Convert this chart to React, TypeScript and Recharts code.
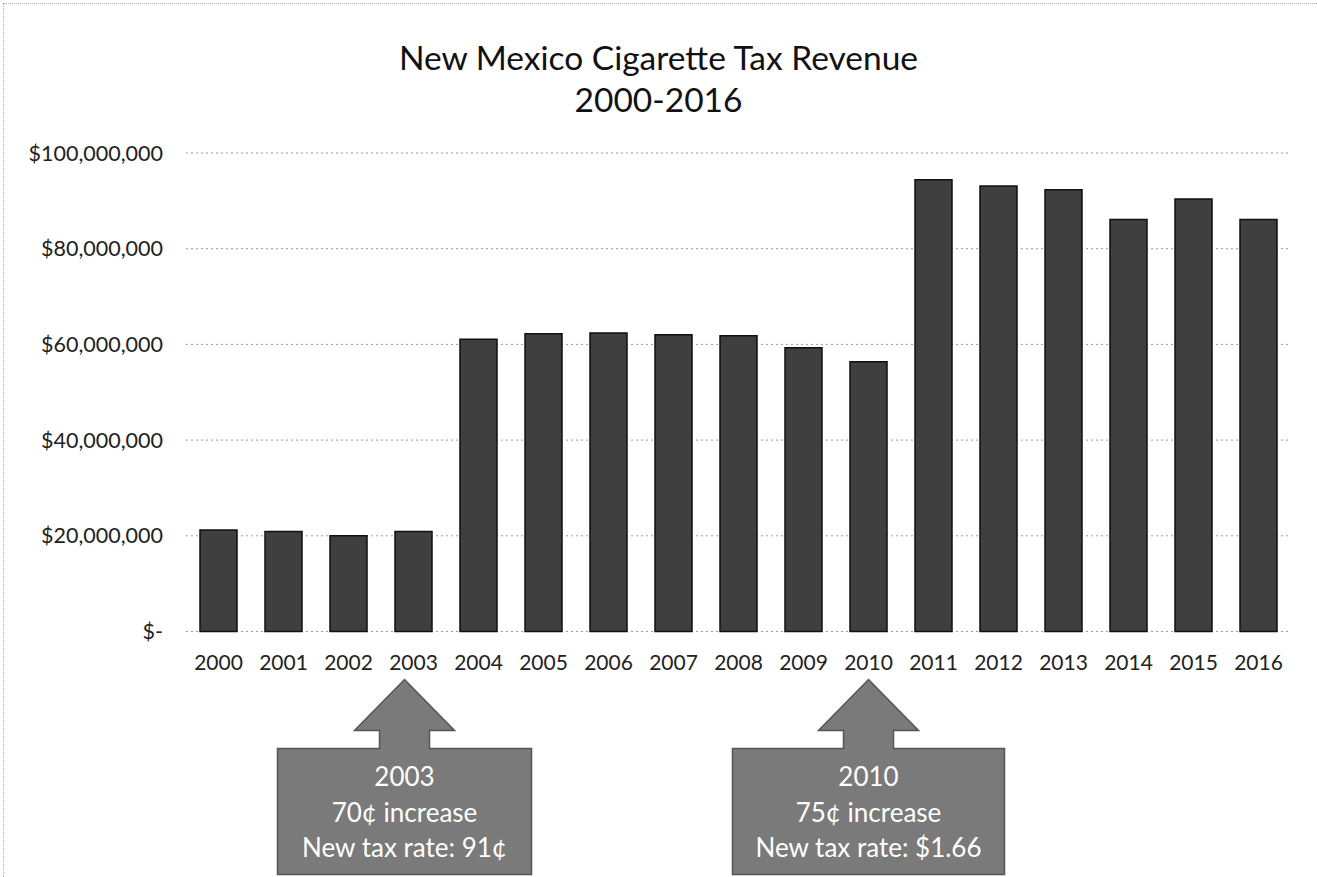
import React from "react";
import { BarChart, Bar, XAxis, YAxis, CartesianGrid, ReferenceDot } from "recharts";

const years = ["2000","2001","2002","2003","2004","2005","2006","2007","2008","2009","2010","2011","2012","2013","2014","2015","2016"];
const revenue = [21200000,20900000,20000000,20900000,61100000,62200000,62400000,62000000,61800000,59300000,56400000,94400000,93100000,92300000,86100000,90400000,86100000];
const yTicks = [0,20000000,40000000,60000000,80000000,100000000];
const titleLines = ["New Mexico Cigarette Tax Revenue","2000-2016"];
const noteYears = ["2003","2010"];
const noteLines = [
  ["2003","70¢ increase","New tax rate: 91¢"],
  ["2010","75¢ increase","New tax rate: $1.66"],
];
const noteWidths = [254,272];
const noteShift = [-9,0];

const data = years.map((y,i)=>({year:y, revenue:revenue[i]}));

const FONT = "Lato, 'Open Sans', sans-serif";

const fmt = (v:number) => v===0 ? "$-" : "$" + v.toLocaleString("en-US");

const makeNote = (idx:number) => (props:any) => {
  const cx = (props.cx ?? 0) + noteShift[idx];
  const cy = props.cy ?? 0;
  const w = noteWidths[idx];
  const tipY = cy + 48;
  const headY = cy + 99;
  const boxY = cy + 117;
  const boxH = 126;
  const path = `M ${cx} ${tipY} L ${cx+50} ${headY} L ${cx+25} ${headY} L ${cx+25} ${boxY} L ${cx+w/2} ${boxY} L ${cx+w/2} ${boxY+boxH} L ${cx-w/2} ${boxY+boxH} L ${cx-w/2} ${boxY} L ${cx-25} ${boxY} L ${cx-25} ${headY} L ${cx-50} ${headY} Z`;
  return (
    <g>
      <path d={path} fill="#7a7a7a" stroke="#555" strokeWidth={1.5} />
      {noteLines[idx].map((t,j)=>(
        <text key={j} x={cx} y={boxY+31+j*35.5} textAnchor="middle" dominantBaseline="middle" fill="#fff" fontFamily={FONT} fontSize={26}>{t}</text>
      ))}
    </g>
  );
};

export default function App() {
  return (
    <div style={{position:"absolute",left:0,top:0,width:1317,height:877,background:"#fff",overflow:"hidden",fontFamily:FONT}}>
      <div style={{position:"absolute",left:3,top:3,right:0,height:0,borderTop:"1px dotted #aaa"}} />
      <div style={{position:"absolute",left:3,top:3,bottom:0,width:0,borderLeft:"1px dotted #aaa"}} />
      <div style={{position:"absolute",left:0,top:36,width:1317,textAlign:"center",fontSize:33.5,color:"#111",lineHeight:"42px"}}>
        {titleLines.map((t,i)=>(<div key={i}>{t}</div>))}
      </div>
      <BarChart width={1317} height={877} data={data} margin={{top:153,right:26,bottom:215.5,left:16}} style={{position:"absolute",left:0,top:0}}>
        <CartesianGrid vertical={false} stroke="#9a9a9a" strokeDasharray="2 3" />
        <XAxis dataKey="year" axisLine={false} tickLine={false} tickSize={0} tickMargin={24} height={30} interval={0}
          tick={{fontSize:21,fill:"#222",fontFamily:FONT}} />
        <YAxis width={170} domain={[0,100000000]} ticks={yTicks} axisLine={false} tickLine={false} tickSize={0} tickMargin={23}
          tickFormatter={fmt} tick={{fontSize:21.5,fill:"#222",fontFamily:FONT}} />
        <Bar dataKey="revenue" fill="#3f3f3f" stroke="#111" strokeWidth={1.5} barSize={37} isAnimationActive={false} />
        {noteYears.map((y,i)=>(
          <ReferenceDot key={y} x={y} y={0} r={0} ifOverflow="visible" shape={makeNote(i)} />
        ))}
      </BarChart>
    </div>
  );
}
